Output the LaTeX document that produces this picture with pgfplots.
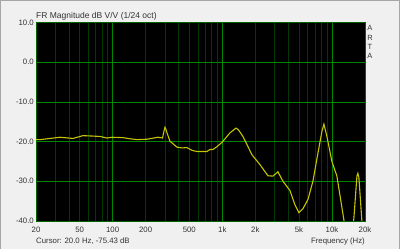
\documentclass[border=0pt]{standalone}
\usepackage{fontspec}
\setmainfont{Liberation Sans}
\usepackage{pgfplots}
\pgfplotsset{compat=1.18}
\definecolor{bg}{RGB}{240,240,240}
\definecolor{gmaj}{RGB}{0,135,0}
\definecolor{gmin}{RGB}{0,58,0}
\definecolor{curve}{RGB}{196,196,0}
\begin{document}
\begin{tikzpicture}[x=1pt,y=1pt]
\fill[bg] (0,0) rectangle (400,249);
\draw[black!35, line width=1pt] (0.5,0) -- (0.5,248.5) -- (399.5,248.5) -- (399.5,0);
\begin{axis}[at={(36pt,28pt)}, anchor=south west, scale only axis,
  width=329pt, height=198.5pt,
  xmode=log, xmin=20, xmax=20000, ymin=-40, ymax=10,
  axis background/.style={fill=black},
  axis line style={draw=gmaj!75!black, line width=0.8pt},
  xtick={100,1000,10000}, xticklabels={},
  minor xtick={20,30,40,50,60,70,80,90,200,300,400,500,600,700,800,900,2000,3000,4000,5000,6000,7000,8000,9000,20000},
  ytick={-40,-30,-20,-10,0,10},
  yticklabels={-40.0,-30.0,-20.0,-10.0,0.0,10.0},
  xmajorgrids, xminorgrids, ymajorgrids,
  major grid style={gmaj, line width=0.8pt},
  minor grid style={gmin, line width=0.8pt},
  major tick length=0pt, minor tick length=0pt,
  extra x ticks={20,50,100,200,500,1000,2000,5000,10000,20000},
  extra x tick labels={20,50,100,200,500,1k,2k,5k,10k,20k},
  extra x tick style={major grid style={draw=none}},
  tick label style={font=\fontsize{7.8}{9}\selectfont, text=black!80},
  yticklabel style={anchor=east, inner sep=0pt, xshift=-2pt},
  xticklabel style={anchor=base, inner sep=0pt, yshift=-11.7pt},
]
\addplot[curve, line width=1.1pt] coordinates {
(20,-19.5) (21.8,-19.5) (27,-19.2) (33,-18.9) (43.5,-19.2) (53.6,-18.5)
(65,-18.6) (76.6,-18.7) (88.7,-19.1) (98.6,-18.9) (124,-19.0) (145,-19.3)
(167,-19.5) (206,-19.4) (259,-18.9) (285,-19.1) (293,-17.5) (300,-16.4)
(307,-17.0) (313,-17.8) (333,-19.9) (386,-21.4) (430,-21.6) (475,-21.5)
(528,-22.2) (587,-22.5) (724,-22.5) (771,-22.0) (822,-22.0) (900,-21.2)
(992,-20.2) (1174,-17.8) (1331,-16.6) (1400,-17.0) (1542,-18.7) (1862,-23.3)
(2203,-25.8) (2606,-28.6) (2892,-28.7) (3214,-27.6) (3572,-30.0) (4133,-32.3)
(4592,-35.9) (4992,-37.9) (5432,-36.9) (6036,-34.6) (6700,-30.0) (7447,-22.9)
(8100,-17.4) (8440,-15.6) (8990,-18.7) (9980,-25.0) (11090,-28.7) (12850,-39.8)
(13800,-46) (14800,-46) (15850,-39.2) (16880,-28.7) (17220,-28.0) (17590,-29.0)
(18740,-40) (19500,-46)
};
\end{axis}
\node[anchor=base west, inner sep=0pt, font=\fontsize{8.5}{10}\selectfont, text=black!80] at (36,230.5) {FR Magnitude dB V/V (1/24 oct)};
\node[anchor=base west, inner sep=0pt, font=\fontsize{7.8}{9}\selectfont, text=black!80] at (36,5.5) {Cursor: 20.0 Hz, -75.43 dB};
\node[anchor=base east, inner sep=0pt, font=\fontsize{7.8}{9}\selectfont, text=black!80] at (365,5.5) {Frequency (Hz)};
\foreach \l/\yy in {A/220.7, R/211.5, T/202.3, A/193.1}
  \node[inner sep=0pt, font=\fontsize{7.5}{9}\selectfont, text=black!80] at (370,\yy) {\l};
\end{tikzpicture}
\end{document}
